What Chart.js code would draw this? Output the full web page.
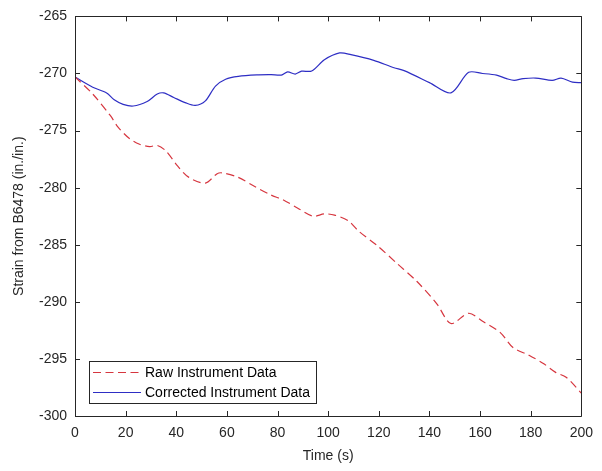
<!DOCTYPE html>
<html>
<head>
<meta charset="utf-8">
<script src="https://cdn.jsdelivr.net/npm/chart.js@4/dist/chart.umd.min.js"></script>
<style>
  html, body { margin: 0; padding: 0; background: #fff; }
  #wrap { width: 602px; height: 471px; }
</style>
</head>
<body>
<div id="wrap"><canvas id="strainChart" width="602" height="471"></canvas></div>
<script>
// time stamps (s) and strain readings
const rawTime = [0, 7, 14, 17, 21.5, 25.5, 29.5, 32.5, 36, 40.5, 45, 51.5, 56, 58, 64.5, 71, 77, 82.5, 88, 94, 98.5, 102.5, 108, 112, 119.5, 127.5, 135, 143, 148.5, 155.5, 161, 168, 173, 179.5, 185, 190, 194, 200];
const rawStrain = [-270.3, -271.8, -273.7, -274.7, -275.7, -276.2, -276.4, -276.3, -276.8, -278.1, -279.1, -279.6, -278.8, -278.7, -279.1, -279.9, -280.6, -281.1, -281.8, -282.5, -282.3, -282.4, -282.9, -283.8, -285.1, -286.7, -288.2, -290.2, -291.9, -291.0, -291.7, -292.7, -294.0, -294.7, -295.4, -296.2, -296.6, -298.0];

const corrTime = [0, 7, 12.5, 15.5, 19, 23, 28.5, 32.5, 35, 39, 43.5, 47.5, 51.5, 55.5, 59.5, 64.5, 72.5, 77.5, 81.5, 84, 87, 89.5, 93.5, 98.5, 104.5, 109, 118, 126, 130, 140, 148.5, 155.5, 161, 166.5, 170.5, 173.5, 177, 182, 188.5, 192, 196.5, 200];
const corrStrain = [-270.3, -271.2, -271.7, -272.3, -272.7, -272.85, -272.45, -271.8, -271.7, -272.1, -272.55, -272.8, -272.4, -271.1, -270.5, -270.25, -270.12, -270.1, -270.14, -269.86, -270.05, -269.8, -269.78, -268.8, -268.2, -268.35, -268.85, -269.5, -269.75, -270.8, -271.7, -269.9, -270.0, -270.15, -270.45, -270.6, -270.45, -270.4, -270.6, -270.4, -270.75, -270.8];

const seriesNames = ['Raw Instrument Data', 'Corrected Instrument Data'];
const xTickValues = [0, 20, 40, 60, 80, 100, 120, 140, 160, 180, 200];
const yTickValues = [-300, -295, -290, -285, -280, -275, -270, -265];

const axisColor = '#262626';
const labelFont = { family: '"Liberation Sans", Arial, Helvetica, sans-serif', size: 14 };

function toPoints(xs, ys) {
    return xs.map((x, i) => ({ x: x, y: ys[i] }));
}

// MATLAB-style box around the axes with inward ticks on all four sides
const boxPlugin = {
    id: 'axesBox',
    afterDraw(chart) {
        const { ctx, chartArea: a, scales } = chart;
        const tick = 5;
        ctx.save();
        ctx.strokeStyle = axisColor;
        ctx.lineWidth = 1;
        ctx.beginPath();
        ctx.rect(Math.round(a.left) + 0.5, Math.round(a.top) + 0.5,
                 Math.round(a.right - a.left), Math.round(a.bottom - a.top));
        xTickValues.forEach(v => {
            const px = Math.round(scales.x.getPixelForValue(v)) + 0.5;
            ctx.moveTo(px, a.bottom); ctx.lineTo(px, a.bottom - tick);
            ctx.moveTo(px, a.top); ctx.lineTo(px, a.top + tick);
        });
        yTickValues.forEach(v => {
            const py = Math.round(scales.y.getPixelForValue(v)) + 0.5;
            ctx.moveTo(a.left, py); ctx.lineTo(a.left + tick, py);
            ctx.moveTo(a.right, py); ctx.lineTo(a.right - tick, py);
        });
        ctx.stroke();
        ctx.restore();
    }
};

// legend box sitting inside the plot, lower left
const insideLegend = {
    id: 'insideLegend',
    afterDraw(chart) {
        const { ctx } = chart;
        const bx = 89.5, by = 361.5, bw = 227, bh = 42;
        ctx.save();
        ctx.fillStyle = '#fff';
        ctx.fillRect(bx, by, bw, bh);
        ctx.strokeStyle = axisColor;
        ctx.lineWidth = 1;
        ctx.strokeRect(bx, by, bw, bh);
        ctx.font = `${labelFont.size}px ${labelFont.family}`;
        ctx.textBaseline = 'middle';
        chart.data.datasets.forEach((ds, i) => {
            const y = 372.5 + i * 20;
            ctx.beginPath();
            ctx.strokeStyle = ds.borderColor;
            ctx.lineWidth = ds.borderWidth;
            ctx.setLineDash(ds.borderDash || []);
            ctx.moveTo(93, y);
            ctx.lineTo(141, y);
            ctx.stroke();
            ctx.setLineDash([]);
            ctx.fillStyle = '#000';
            ctx.fillText(ds.label, 145, y + 1);
        });
        ctx.restore();
    }
};

new Chart(document.getElementById('strainChart'), {
    type: 'line',
    data: {
        datasets: [{
            label: seriesNames[0],
            data: toPoints(rawTime, rawStrain),
            borderColor: '#d6363f',
            borderWidth: 1.2,
            borderDash: [8, 4.5],
            pointRadius: 0,
            tension: 0.3,
            fill: false
        }, {
            label: seriesNames[1],
            data: toPoints(corrTime, corrStrain),
            borderColor: '#2e2ec4',
            borderWidth: 1.2,
            pointRadius: 0,
            tension: 0.3,
            fill: false
        }]
    },
    options: {
        responsive: false,
        animation: false,
        layout: { autoPadding: false, padding: { left: 0, top: 13, right: 15, bottom: 0 } },
        plugins: {
            legend: { display: false },
            tooltip: { enabled: false }
        },
        scales: {
            x: {
                type: 'linear',
                min: 0,
                max: 200,
                afterBuildTicks: s => { s.ticks = xTickValues.map(v => ({ value: v })); },
                afterFit: s => { s.height = 55; },
                grid: { display: false, drawTicks: false },
                border: { display: false },
                ticks: { color: axisColor, font: labelFont, padding: 9, maxRotation: 0 },
                title: { display: true, text: 'Time (s)', color: axisColor, font: labelFont, padding: { top: 0, bottom: 6 } }
            },
            y: {
                type: 'linear',
                min: -300,
                max: -265,
                afterBuildTicks: s => { s.ticks = yTickValues.map(v => ({ value: v })); },
                afterFit: s => { s.width = 75; },
                grid: { display: false, drawTicks: false },
                border: { display: false },
                ticks: { color: axisColor, font: labelFont, padding: 8 },
                title: { display: true, text: 'Strain from B6478 (in./in.)', color: axisColor, font: labelFont, padding: { top: 11, bottom: 0 } }
            }
        }
    },
    plugins: [boxPlugin, insideLegend]
});
</script>
</body>
</html>
